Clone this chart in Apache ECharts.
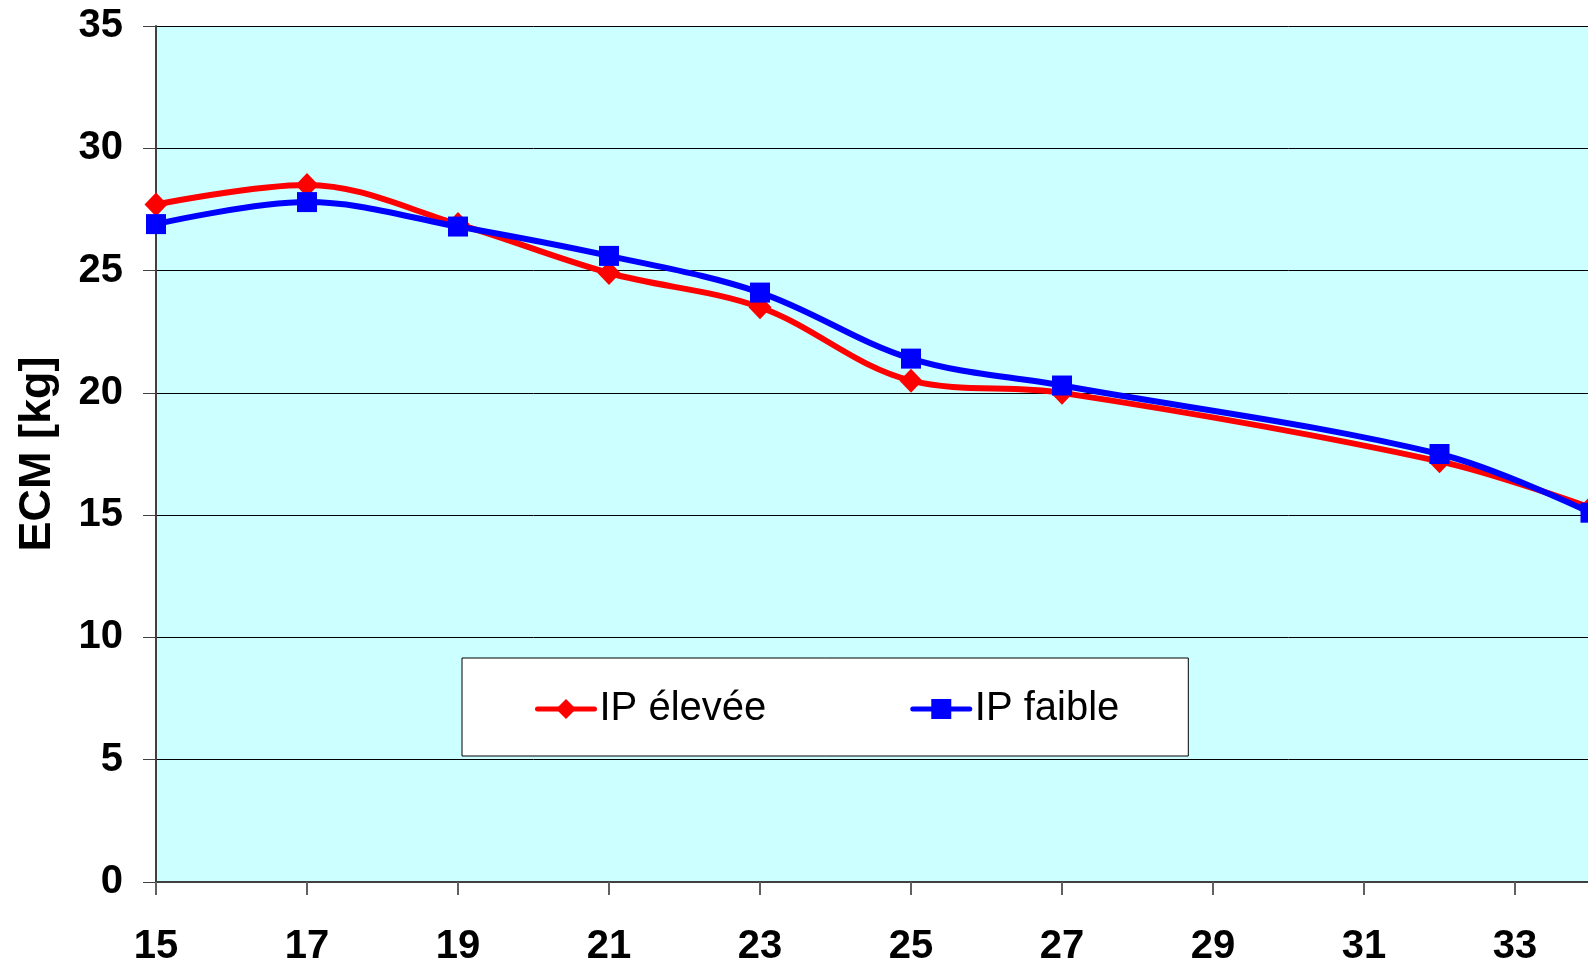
<!DOCTYPE html>
<html>
<head>
<meta charset="utf-8">
<script src="https://cdn.jsdelivr.net/npm/echarts@6/dist/echarts.min.js"></script>
<style>
  html, body { margin: 0; padding: 0; background: #ffffff; overflow: hidden; width: 1588px; height: 960px; }
  #frame { position: relative; width: 1588px; height: 960px; overflow: hidden; }
  /* the plot runs on past the right edge of the frame, up to week 35 */
  #chart { position: absolute; left: 0; top: 0; width: 1666px; height: 960px; }
</style>
</head>
<body>
<div id="frame"><div id="chart"></div></div>
<script>
// Semaines (abscisse) et ECM moyen par groupe
const weeks = [15, 17, 19, 21, 23, 25, 27, 32, 34];
const ipEleveeValues = [27.7, 28.5, 26.9, 24.9, 23.5, 20.5, 20.0, 17.2, 15.3];
const ipFaibleValues = [26.9, 27.8, 26.8, 25.6, 24.1, 21.4, 20.3, 17.5, 15.1];
const seriesNames = ['IP élevée', 'IP faible'];
const yAxisTitle = 'ECM [kg]';

const pairs = (xs, ys) => xs.map((x, i) => [x, ys[i]]);

const chart = echarts.init(document.getElementById('chart'), null, { renderer: 'canvas', width: 1666, height: 960 });

const tickFont = {
  fontFamily: 'Liberation Sans, Arial, sans-serif',
  fontWeight: 'bold',
  fontSize: 40,
  color: '#000000'
};

chart.setOption({
  animation: false,
  backgroundColor: '#ffffff',
  grid: {
    left: 156,
    right: 0,
    top: 26,
    bottom: 78,
    outerBoundsMode: 'none',
    containLabel: false,
    show: true,
    backgroundColor: '#CCFFFF',
    borderWidth: 0
  },
  legend: {
    left: 462,
    top: 658,
    orient: 'horizontal',
    padding: [31, 69, 27, 73],
    itemGap: 144,
    itemWidth: 57,
    itemHeight: 25,
    backgroundColor: '#ffffff',
    borderColor: '#000000',
    borderWidth: 1,
    lineStyle: { width: 5, cap: 'round' },
    textStyle: {
      fontFamily: 'Liberation Sans, Arial, sans-serif',
      fontSize: 40,
      color: '#000000'
    },
    data: seriesNames
  },
  xAxis: {
    type: 'value',
    min: 15,
    max: 35,
    interval: 2,
    axisLine: { show: true, lineStyle: { color: '#404040', width: 2 } },
    axisTick: { show: true, inside: false, length: 13, lineStyle: { color: '#606060', width: 2 } },
    axisLabel: Object.assign({ margin: 45 }, tickFont),
    splitLine: { show: false }
  },
  yAxis: {
    type: 'value',
    min: 0,
    max: 35,
    interval: 5,
    name: yAxisTitle,
    nameLocation: 'middle',
    nameGap: 96,
    nameTextStyle: {
      fontFamily: 'Liberation Sans, Arial, sans-serif',
      fontWeight: 'bold',
      fontSize: 45,
      color: '#000000'
    },
    axisLine: { show: true, lineStyle: { color: '#404040', width: 2 } },
    axisTick: { show: true, inside: false, length: 13, lineStyle: { color: '#404040', width: 1 } },
    axisLabel: Object.assign({ margin: 33 }, tickFont),
    splitLine: { show: true, lineStyle: { color: '#000000', width: 1 } }
  },
  series: [
    {
      name: seriesNames[0],
      type: 'line',
      data: pairs(weeks, ipEleveeValues),
      smooth: 0.35,
      symbol: 'diamond',
      symbolSize: [23, 24],
      showAllSymbol: true,
      itemStyle: { color: '#FF0000' },
      lineStyle: { color: '#FF0000', width: 6 },
      z: 2
    },
    {
      name: seriesNames[1],
      type: 'line',
      data: pairs(weeks, ipFaibleValues),
      smooth: 0.35,
      symbol: 'rect',
      symbolSize: 20,
      showAllSymbol: true,
      itemStyle: { color: '#0000FF' },
      lineStyle: { color: '#0000FF', width: 6 },
      z: 3
    }
  ]
});
</script>
</body>
</html>
